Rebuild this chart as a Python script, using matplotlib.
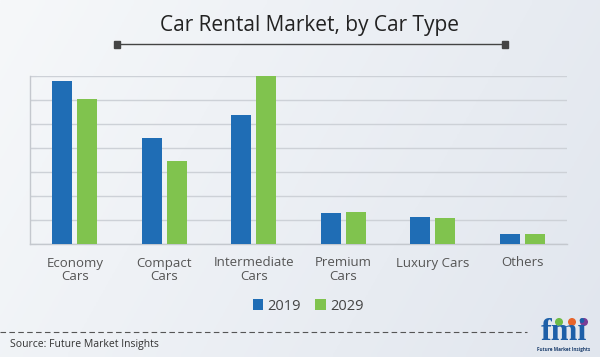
import numpy as np
import matplotlib.pyplot as plt
from matplotlib.patches import Rectangle, Circle
from matplotlib.lines import Line2D

# data (arbitrary units, gridlines every 1)
categories = ["Economy\nCars", "Compact\nCars", "Intermediate\nCars",
              "Premium\nCars", "Luxury Cars", "Others"]
years = ["2019", "2029"]
values_2019 = [6.78, 4.40, 5.36, 1.29, 1.14, 0.43]
values_2029 = [6.05, 3.46, 7.00, 1.33, 1.10, 0.43]

colors = ["#1f6db5", "#80c34e"]
plt.rcParams['font.family'] = ['Open Sans', 'DejaVu Sans']

W, H = 600, 357
fig = plt.figure(figsize=(6, 3.57), dpi=100)

# background gradient
bg = fig.add_axes([0, 0, 1, 1], zorder=-10)
gx = np.linspace(0, 1, 256)
gy = np.linspace(0, 1, 64)
GX, GY = np.meshgrid(gx, gy)
t = np.clip(0.75 * GX + 0.25 * GY, 0, 1)
c0 = np.array([0xf6, 0xf8, 0xfa]) / 255
c1 = np.array([0xe1, 0xe6, 0xee]) / 255
img = c0[None, None, :] * (1 - t[..., None]) + c1[None, None, :] * t[..., None]
bg.imshow(img, aspect='auto', extent=[0, W, H, 0])
bg.set_xlim(0, W)
bg.set_ylim(H, 0)
bg.axis('off')

# title and decorative line
bg.text(309, 26, "Car Rental Market, by Car Type", ha='center', va='center',
        fontsize=15, color='#222222')
bg.add_line(Line2D([118, 504], [44.3, 44.3], color='#444444', lw=1.0))
for sx in [117, 505]:
    bg.add_patch(Rectangle((sx - 3.3, 44.3 - 3.3), 6.6, 6.6, color='#444444'))

# main chart
ax = fig.add_axes([30 / W, 1 - 244 / H, 537 / W, (244 - 75.7) / H])
ax.set_facecolor('none')
x = np.arange(len(categories))
bw = 0.223
off = 0.14
ax.bar(x - off, values_2019, bw, color=colors[0], label=years[0], zorder=3)
ax.bar(x + off, values_2029, bw, color=colors[1], label=years[1], zorder=3)
ax.set_xlim(-0.5, len(categories) - 0.5)
ax.set_ylim(0, 7)
ax.set_yticks(np.arange(0, 8, 1))
ax.yaxis.grid(True, color='#cdd1d7', lw=1.0, zorder=0)
ax.tick_params(axis='y', length=4, color='#cdd1d7', direction='in', labelleft=False)
ax.set_xticks(x)
ax.set_xticklabels(categories, fontsize=9.5, color='#555555', linespacing=1.0)
ax.tick_params(axis='x', length=0, pad=9)
for s in ['top', 'right']:
    ax.spines[s].set_visible(False)
for s in ['left', 'bottom']:
    ax.spines[s].set_color('#c4c8ce')
    ax.spines[s].set_linewidth(1.0)

leg = ax.legend(loc='center', bbox_to_anchor=((308 - 30) / 537, -(306 - 244) / (244 - 75.7)),
                ncol=2, frameon=False, fontsize=10.5, handlelength=0.7, handleheight=0.7,
                handletextpad=0.3, columnspacing=1.0)
for txt in leg.get_texts():
    txt.set_color('#444444')

# footer
bg.add_line(Line2D([0, 527], [331.7, 331.7], color='#555555', lw=0.8,
                   linestyle=(0, (5, 3))))
bg.text(10.5, 345, "Source: Future Market Insights", ha='left', va='center',
        fontsize=7.5, color='#333333')

# fmi logo
bg.text(564, 333, "fmi", ha='center', va='center', fontsize=23, fontweight='bold',
        family='Liberation Serif', color='#1d5fa8')
for cx, cc in [(559, '#6dbb45'), (572, '#e8642a'), (584, '#7a3d96')]:
    bg.add_patch(Circle((cx, 322), 3.3, color=cc))
bg.text(564, 350, "Future Market Insights", ha='center', va='center',
        fontsize=3.3, color='#1d3f6e', fontweight='bold')

fig.savefig("out.png", dpi=100)
